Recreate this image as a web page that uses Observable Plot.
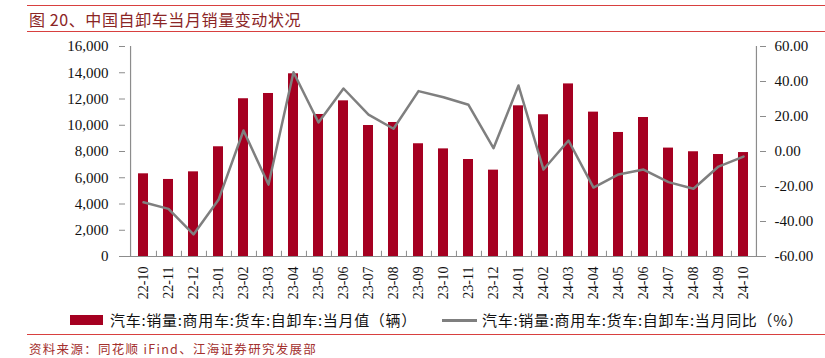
<!DOCTYPE html>
<html><head><meta charset="utf-8">
<script src="https://cdn.jsdelivr.net/npm/d3@7"></script>
<script src="https://cdn.jsdelivr.net/npm/@observablehq/plot@0.6"></script>
<style>
body{margin:0;background:#fff;width:825px;height:358px;position:relative;overflow:hidden;font-family:"Noto Sans CJK SC","Noto Sans",sans-serif}
#chart{position:absolute;left:0;top:0}
.hr{position:absolute;left:27px;right:0;height:0;border-top:1.3px solid #d8403f}
.title{position:absolute;left:29px;top:9px;line-height:20px;font-size:16px;letter-spacing:0.6px;color:#8b2525;white-space:nowrap}
.src{position:absolute;left:29px;top:342px;line-height:14px;font-size:12.5px;letter-spacing:1.3px;color:#a3302e;white-space:nowrap}
.lg{position:absolute;top:311px;line-height:18px;font-size:15px;letter-spacing:0.7px;color:#111;white-space:nowrap}
.sw{position:absolute}
</style>
</head><body>
<div class="hr" style="top:5px"></div>
<div class="title">图 20、中国自卸车当月销量变动状况</div>
<div class="hr" style="top:31px"></div>
<div id="chart"></div>
<div class="sw" style="left:70px;top:315px;width:33px;height:10px;background:#a50021"></div>
<div class="lg" style="left:110px">汽车:销量:商用车:货车:自卸车:当月值（辆）</div>
<div class="sw" style="left:442px;top:319px;width:35px;height:2.5px;background:#7f7f7f"></div>
<div class="lg" style="left:482px">汽车:销量:商用车:货车:自卸车:当月同比（%）</div>
<div class="hr" style="top:334px"></div>
<div class="src">资料来源：同花顺 iFind、江海证券研究发展部</div>
<script>
const months = ["22-10","22-11","22-12","23-01","23-02","23-03","23-04","23-05","23-06","23-07","23-08","23-09","23-10","23-11","23-12","24-01","24-02","24-03","24-04","24-05","24-06","24-07","24-08","24-09","24-10"];
const sales = [6300,5870,6450,8360,12020,12420,13920,10820,11860,9980,10210,8590,8200,7390,6580,11480,10800,13150,11000,9450,10590,8260,7980,7770,7920];
const yoy = [-29.0,-32.8,-47.4,-27.6,12.0,-18.9,45.3,16.6,36.0,21.1,13.0,34.5,31.0,26.7,1.9,37.7,-10.3,6.3,-20.6,-13.1,-10.3,-17.5,-21.3,-8.6,-2.9];
const leftTicks = [0,2000,4000,6000,8000,10000,12000,14000,16000];
const rightTicks = [-60,-40,-20,0,20,40,60];

const toLeft = v => (v + 60) / 120 * 16000;
const toRight = v => v / 16000 * 120 - 60;
const data = months.map((m, i) => ({m, sales: sales[i], yoy: yoy[i]}));

const W = 825, H = 300, ML = 119, MR = 59, MT = 46, MB = 44;
const step = (W - ML - MR) / months.length;
const axisColor = "#8c8c8c";

const chart = Plot.plot({
  width: W, height: H, marginLeft: ML, marginRight: MR, marginTop: MT, marginBottom: MB,
  style: {fontFamily: "'Liberation Serif', 'Times New Roman', serif", fontSize: "15px", color: "#111", background: "transparent"},
  x: {domain: months, paddingInner: 0.6, paddingOuter: 0.3, axis: null},
  y: {domain: [0, 16000], axis: null},
  marks: [
    Plot.barY(data, {x: "m", y: "sales", fill: "#a50021"}),
    Plot.ruleY([0], {stroke: axisColor, strokeWidth: 1.2}),
    Plot.ruleX([months[0]], {x: d => d, y1: 0, y2: 16000, dx: -step / 2, stroke: axisColor, strokeWidth: 1.2}),
    Plot.ruleX([months[months.length - 1]], {x: d => d, y1: 0, y2: 16000, dx: step / 2, stroke: axisColor, strokeWidth: 1.2}),
    Plot.ruleX(months.slice(0, -1), {x: d => d, y1: 0, y2: 400, dx: step / 2, stroke: axisColor}),
    Plot.ruleY(leftTicks, {y: d => d, stroke: axisColor, insetRight: W - ML - MR - 6}),
    Plot.ruleY(rightTicks.map(toLeft), {y: d => d, stroke: axisColor, insetLeft: W - ML - MR - 6}),
    Plot.line(data, {x: "m", y: d => toLeft(d.yoy), stroke: "#7f7f7f", strokeWidth: 2.5}),
    Plot.axisY(leftTicks, {anchor: "left", label: null, tickSize: 0, tickPadding: 11, tickFormat: d3.format(",")}),
    Plot.axisY(rightTicks.map(toLeft), {anchor: "right", label: null, tickSize: 0, tickPadding: 8, tickFormat: d => toRight(d).toFixed(2)}),
    Plot.axisX({label: null, tickRotate: -90, tickSize: 0, tickPadding: 10, fontSize: 14})
  ]
});
document.getElementById("chart").appendChild(chart);
</script>
</body></html>
